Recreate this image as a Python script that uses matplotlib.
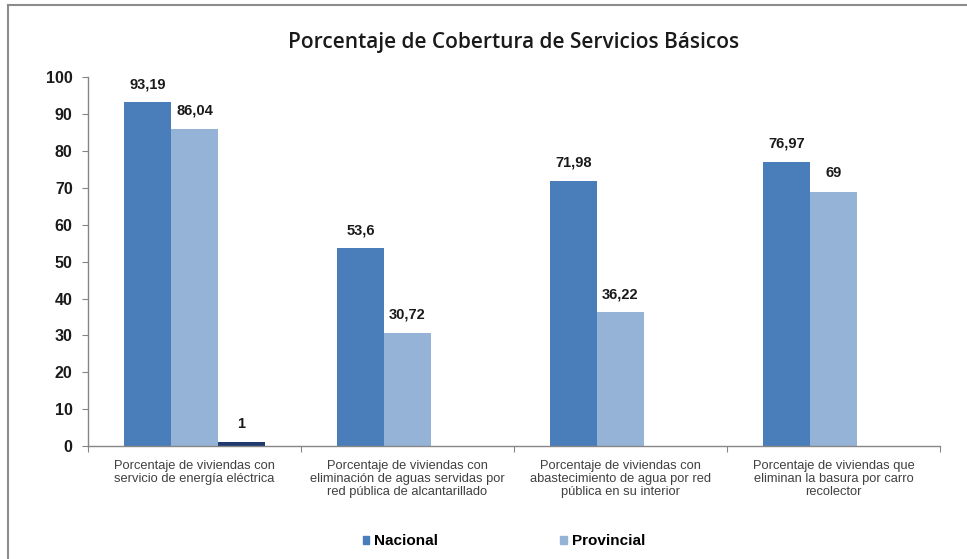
import matplotlib
matplotlib.use("Agg")
import matplotlib.pyplot as plt
from matplotlib.lines import Line2D
from matplotlib.patches import Patch
import numpy as np

categories = [
    "Porcentaje de viviendas con\nservicio de energía eléctrica",
    "Porcentaje de viviendas con\neliminación de aguas servidas por\nred pública de alcantarillado",
    "Porcentaje de viviendas con\nabastecimiento de agua por red\npública en su interior",
    "Porcentaje de viviendas que\neliminan la basura por carro\nrecolector",
]
nacional = [93.19, 53.6, 71.98, 76.97]
provincial = [86.04, 30.72, 36.22, 69]
tercera = [1, None, None, None]
nacional_lbl = ["93,19", "53,6", "71,98", "76,97"]
provincial_lbl = ["86,04", "30,72", "36,22", "69"]
tercera_lbl = ["1", None, None, None]
title = "Porcentaje de Cobertura de Servicios Básicos"

c_nac = "#4a7ebb"
c_prov = "#95b3d7"
c_ter = "#1f3a6e"

fig = plt.figure(figsize=(9.67, 5.59), dpi=100)
ax = fig.add_axes([0.091, 0.202, 0.881, 0.66])

x = np.arange(len(categories))
w = 0.22
series = [(nacional, nacional_lbl, c_nac, -w), (provincial, provincial_lbl, c_prov, 0), (tercera, tercera_lbl, c_ter, w)]
for vals, lbls, col, off in series:
    for xi, v, l in zip(x, vals, lbls):
        if v is None:
            continue
        ax.bar(xi + off, v, width=w, color=col, edgecolor="none")
        ax.annotate(l, (xi + off, v), xytext=(0, 8), textcoords="offset points",
                    ha="center", va="bottom", fontsize=10.5, fontweight="bold",
                    family="Liberation Sans", color="#1a1a1a")

ax.set_xlim(-0.5, 3.5)
ax.set_ylim(0, 100)
ax.set_yticks(range(0, 101, 10))
ax.set_yticklabels([str(v) for v in range(0, 101, 10)], fontsize=11.5, fontweight="bold",
                   family="Liberation Sans", color="#1a1a1a")
ax.set_xticks([-0.5, 0.5, 1.5, 2.5, 3.5])
ax.set_xticklabels([])
ax.set_xticks(x, minor=True)
ax.set_xticklabels(categories, minor=True, fontsize=9.3, family="Liberation Sans", color="#404040",
                   linespacing=1.1)
ax.tick_params(axis="x", which="minor", length=0, pad=10)
ax.tick_params(axis="x", which="major", length=4, color="#868686", direction="out")
ax.tick_params(axis="y", length=4, color="#868686", direction="out", pad=7)
for s in ["top", "right"]:
    ax.spines[s].set_visible(False)
for s in ["left", "bottom"]:
    ax.spines[s].set_color("#868686")
    ax.spines[s].set_linewidth(1)

fig.text(0.531, 0.924, title, ha="center", va="center", fontsize=15, family="Open Sans",
         fontweight="semibold", color="#1a1a1a")

handles = [Patch(color=c_nac), Patch(color=c_prov)]
leg = fig.legend(handles, ["Nacional", "Provincial"], loc="center", bbox_to_anchor=(0.521, 0.032),
                 ncol=2, frameon=False, handlelength=0.45, handleheight=0.45, handletextpad=0.3,
                 columnspacing=8, prop={"family": "Liberation Sans", "weight": "bold", "size": 11})

fig.add_artist(Line2D([0.008, 0.008], [0, 0.991], transform=fig.transFigure, color="#8c8c8c", lw=1.5))
fig.add_artist(Line2D([0.008, 1], [0.991, 0.991], transform=fig.transFigure, color="#8c8c8c", lw=1.5))

fig.savefig("out.png", dpi=100)
